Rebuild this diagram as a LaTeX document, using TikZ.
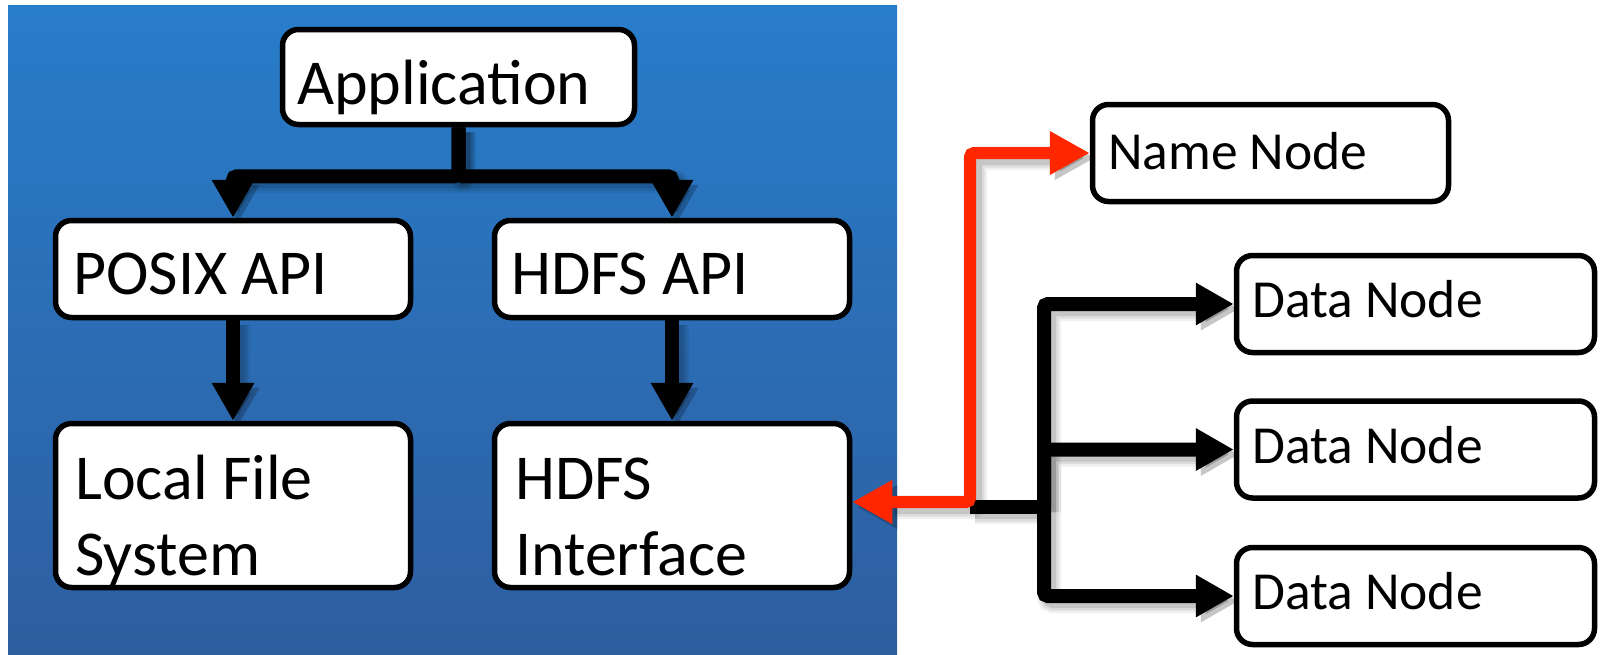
\documentclass[tikz,border=0pt]{standalone}
\usepackage{fontspec}
\setmainfont{Carlito}
\usetikzlibrary{arrows.meta}

\definecolor{bgtop}{RGB}{40,125,202}
\definecolor{bgbottom}{RGB}{46,94,160}
\definecolor{linkred}{RGB}{255,38,0}

\tikzset{
  box/.style={draw=black, fill=white, line width=5.5pt, rounded corners=16pt,
              inner sep=0pt, minimum width=355pt},
  bigtxt/.style={anchor=base west, inner sep=0pt, font=\fontsize{64}{75}\selectfont},
  smalltxt/.style={anchor=base west, inner sep=0pt, font=\fontsize{53.5}{64}\selectfont},
  % soft drop shadow built from a few faint offset strokes
  shadowed/.style={
    preaction={draw=black, opacity=0.06, line width=24pt, transform canvas={shift={(5,5)}}},
    preaction={draw=black, opacity=0.08, line width=19pt, transform canvas={shift={(5,5)}}},
    preaction={draw=black, opacity=0.10, line width=14pt, transform canvas={shift={(5,5)}}}},
  conn/.style={draw=black, line width=14pt, rounded corners=4pt,
               -{Triangle[length=38pt, width=40pt]}},
  redconn/.style={draw=linkred, line width=12pt, rounded corners=4pt,
               {Triangle[length=40pt, width=41pt]}-{Triangle[length=40pt, width=41pt]}},
  trunk/.style={draw=black, line width=14pt, rounded corners=4pt}
}

\begin{document}
\begin{tikzpicture}[x=1pt, y=-1pt]
  \useasboundingbox (0,0) rectangle (1601,654);

  % client side panel
  \shade[top color=bgtop, bottom color=bgbottom] (8,5) rectangle (897,654);

  % boxes
  \node[box, minimum width=352pt, minimum height=95pt] (app) at (458.5,77) {};
  \node[box, minimum height=97pt] (posix) at (233,269) {};
  \node[box, minimum height=97pt] (hdfsapi) at (672,269) {};
  \node[box, minimum height=164pt] (local) at (233,505.5) {};
  \node[box, minimum height=164pt] (hdfsif) at (672,505.5) {};
  \node[box, minimum width=356pt, minimum height=97pt] (name) at (1270.5,153) {};
  \node[box, minimum width=358pt, minimum height=97pt] (dn1) at (1415.5,304) {};
  \node[box, minimum width=358pt, minimum height=97pt] (dn2) at (1415.5,449.5) {};
  \node[box, minimum width=358pt, minimum height=97pt] (dn3) at (1415.5,596) {};

  % labels
  \node[bigtxt] (tapp) at (297,104) {Application};
  \node[bigtxt] (tposix) at (73,294) {POSIX API};
  \node[bigtxt] (thdfsapi) at (511,294) {HDFS API};
  \node[bigtxt] (tlocal1) at (75,499) {Local File};
  \node[bigtxt] (tlocal2) at (75,575) {System};
  \node[bigtxt] (thdfsif1) at (515,499) {HDFS};
  \node[bigtxt] (thdfsif2) at (515,575) {Interface};
  \node[smalltxt] (tname) at (1108,169) {Name Node};
  \node[smalltxt] (tdn1) at (1252,317.5) {Data Node};
  \node[smalltxt] (tdn2) at (1252,463.5) {Data Node};
  \node[smalltxt] (tdn3) at (1252,609.5) {Data Node};

  % application fans out to both APIs
  \draw[conn, shadowed] (app.south) -- ++(0,49) -| (posix.north);
  \draw[conn, shadowed] (app.south) -- ++(0,49) -| (hdfsapi.north);
  \draw[conn, shadowed] (posix.south) -- (local.north);
  \draw[conn, shadowed] (hdfsapi.south) -- (hdfsif.north);

  % data path to the data nodes
  \coordinate (rj) at (970,502);
  \coordinate (bj) at (970,507);
  \coordinate (tr) at (1044,507);
  \draw[trunk, shadowed] (bj) -- (tr);
  \draw[conn, shadowed] (tr) |- (dn1.west);
  \draw[conn, shadowed] (tr) |- (dn2.west);
  \draw[conn, shadowed] (tr) |- (dn3.west);

  % metadata path to the name node
  \draw[redconn, shadowed] (hdfsif.east |- rj) -- (rj) |- (name.west);
\end{tikzpicture}
\end{document}
